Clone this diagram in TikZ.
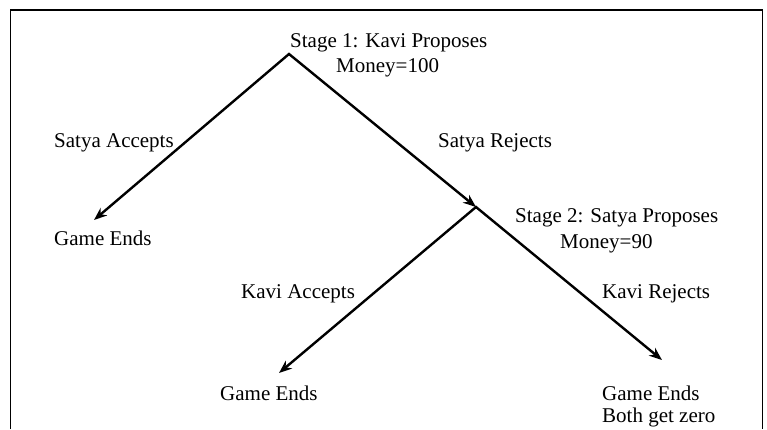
\documentclass[tikz,border=0pt]{standalone}
\usepackage{fontspec}
\setmainfont{Liberation Serif}
\usetikzlibrary{arrows.meta}
\begin{document}
\begin{tikzpicture}[x=1pt,y=-1pt,
  lbl/.style={anchor=base west, inner sep=0pt, font=\fontsize{21}{25}\selectfont},
  branch/.style={line width=2.4pt, line join=miter,
    {Stealth[length=13pt,width=10pt]}-{Stealth[length=13pt,width=10pt]}},
  frame/.style={line width=1.6pt}]
\useasboundingbox (0,0) rectangle (767,429);
\draw[frame] (10.5,429) -- (10.5,10) -- (762.5,10) -- (762.5,429);

% tree points
\coordinate (s1) at (289,54);
\coordinate (e1) at (94,220);
\coordinate (s2) at (476,207);
\coordinate (e2) at (279,373);
\coordinate (e3) at (662,360);

% connectors
\draw[branch] (e1) -- (s1) -- (s2);
\draw[branch] (e2) -- (s2) -- (e3);

% labels
\node[lbl] (t1) at (290,47) {Stage 1: Kavi Proposes};
\node[lbl] (m1) at (336,72) {Money=100};
\node[lbl] (sa) at (54,147) {Satya Accepts};
\node[lbl] (sr) at (438,147) {Satya Rejects};
\node[lbl] (g1) at (54,245) {Game Ends};
\node[lbl] (t2) at (515,222) {Stage 2: Satya Proposes};
\node[lbl] (m2) at (560,248) {Money=90};
\node[lbl] (ka) at (241,298) {Kavi Accepts};
\node[lbl] (kr) at (602,298) {Kavi Rejects};
\node[lbl] (g2) at (220,400) {Game Ends};
\node[lbl] (g3) at (602,400) {Game Ends};
\node[lbl] (bz) at (602,422) {Both get zero};
\end{tikzpicture}
\end{document}
